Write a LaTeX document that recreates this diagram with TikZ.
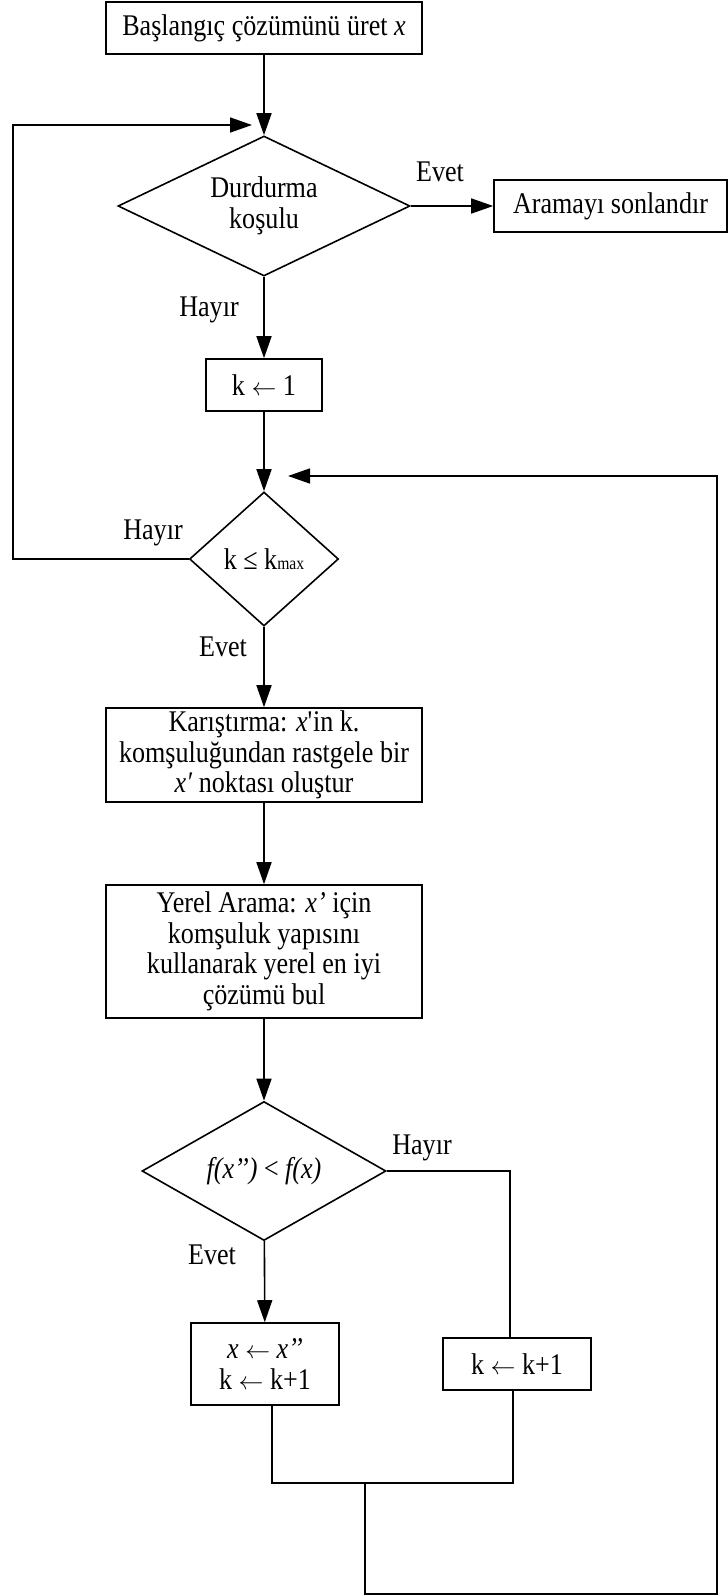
\documentclass[tikz,border=0pt]{standalone}
\usepackage{fontspec}
\setmainfont{Liberation Serif}[FakeStretch=0.87]
\usetikzlibrary{shapes.geometric,arrows.meta}
\newcommand{\larr}{\mbox{\fontsize{27}{27}\selectfont$\leftarrow$}}
\begin{document}
\begin{tikzpicture}[x=1pt,y=-1pt,
  every node/.style={font=\fontsize{30}{30.5}\selectfont},
  box/.style={draw,line width=1.6pt,rectangle,inner sep=0pt,align=center},
  dia/.style={draw,line width=1.6pt,diamond,inner sep=0pt,align=center},
  conn/.style={line width=1.6pt},
  arr/.style={conn,-{Triangle[length=22pt,width=15pt]}},
  lbl/.style={inner sep=0pt}]
\useasboundingbox (0,0) rectangle (728,1596);
\node[box,minimum width=316pt,minimum height=52pt] (start) at (264,28) {Başlangıç çözümünü üret \textit{x}};
\node[dia,shape aspect=2,minimum width=292pt,minimum height=140pt] (d1) at (264,206) {Durdurma\\koşulu};
\node[box,minimum width=233pt,minimum height=52pt] (end) at (610.5,206) {Aramayı sonlandır};
\node[box,minimum width=116pt,minimum height=52pt] (k1) at (264,385) {k \larr\ 1};
\node[dia,minimum width=149pt,minimum height=134pt] (d2) at (264,559) {k ≤ k{\fontsize{18}{18}\selectfont max}};
\node[box,minimum width=316pt,minimum height=94pt] (shake) at (264,755) {Karıştırma: \textit{x}\textquotesingle in k.\\komşuluğundan rastgele bir\\\textit{x′} noktası oluştur};
\node[box,minimum width=316pt,minimum height=133pt] (local) at (264,951.5) {Yerel Arama: \textit{x’} için\\komşuluk yapısını\\kullanarak yerel en iyi\\çözümü bul};
\node[dia,shape aspect=1.75,minimum width=244pt,minimum height=139pt] (d3) at (264,1171) {\textit{f(x’’)\,<\,f(x)}};
\node[box,minimum width=148pt,minimum height=82pt] (upd) at (265,1364) {\textit{x} \larr\ \textit{x’’}\\k \larr\ k+1};
\node[box,minimum width=148pt,minimum height=52pt] (inc) at (517,1364) {k \larr\ k+1};
\node[lbl] (l1) at (440,172) {Evet};
\node[lbl] (l2) at (209,310) {Hayır};
\node[lbl] (l3) at (153,533) {Hayır};
\node[lbl] (l4) at (223,647) {Evet};
\node[lbl] (l5) at (422,1148) {Hayır};
\node[lbl] (l6) at (212,1255) {Evet};
\draw[arr] (start) -- (d1);
\coordinate (la) at (13,559);
\coordinate (lb) at (13,125);
\coordinate (lc) at (252,125);
\draw[arr] (d2.west) -- (la) -- (lb) -- (lc);
\draw[arr] (d1) -- (end);
\draw[arr] (d1) -- (k1);
\draw[arr] (k1) -- (d2);
\draw[arr] (d2) -- (shake);
\draw[arr] (shake) -- (local);
\draw[arr] (local) -- (d3);
\draw[arr] (d3) -- (upd);
\coordinate (ra) at (510,1171);
\draw[conn] (d3.east) -- (ra) -- (ra |- inc.north);
\coordinate (ba) at (272,1483);
\coordinate (bb) at (513,1483);
\draw[conn] (upd.south -| ba) -- (ba) -- (bb) -- (bb |- inc.south);
\coordinate (bc) at (365,1483);
\coordinate (bd) at (365,1594);
\coordinate (be) at (717,1594);
\coordinate (bf) at (717,476);
\coordinate (bg) at (288,476);
\draw[arr] (bc) -- (bd) -- (be) -- (bf) -- (bg);
\end{tikzpicture}
\end{document}
